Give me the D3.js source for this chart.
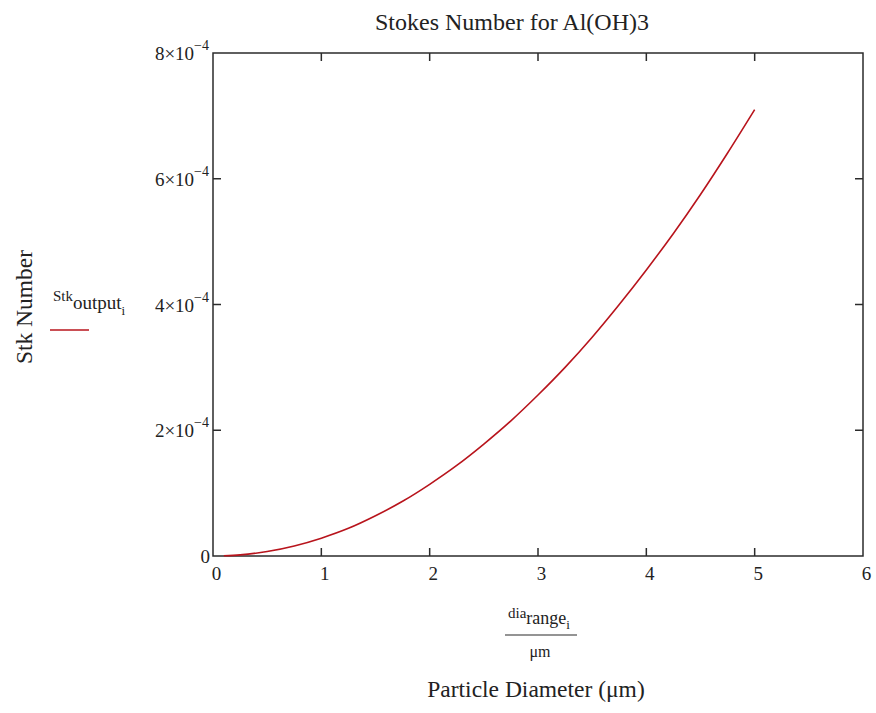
<!DOCTYPE html>
<html>
<head>
<meta charset="utf-8">
<script src="https://cdn.jsdelivr.net/npm/d3@7"></script>
<style>
  body { margin: 0; background: #fff; }
  text { font-family: "Liberation Serif", "DejaVu Serif", serif; fill: #222; }
</style>
</head>
<body>
<div id="chart"></div>
<script>
// data (Stk values in units of 1e-4)
const diameters = [0.1, 0.25, 0.5, 0.75, 1, 1.25, 1.5, 1.75, 2, 2.25, 2.5, 2.75, 3, 3.25, 3.5, 3.75, 4, 4.25, 4.5, 4.75, 5];
const stkValues = [0.003, 0.018, 0.071, 0.16, 0.284, 0.44, 0.64, 0.87, 1.14, 1.44, 1.78, 2.15, 2.56, 3.0, 3.48, 4.0, 4.55, 5.13, 5.75, 6.41, 7.10];
const xTicks = [0, 1, 2, 3, 4, 5, 6];
const yTicks = [0, 2, 4, 6, 8];

const width = 876;
const height = 713;
const margin = { left: 213, right: 13, top: 53, bottom: 157 };

const svg = d3.select("#chart").append("svg")
    .attr("width", width)
    .attr("height", height);

const x = d3.scaleLinear().domain([0, 6]).range([margin.left, width - margin.right]);
const y = d3.scaleLinear().domain([0, 8]).range([height - margin.bottom, margin.top]);

const points = diameters.map((d, i) => ({ d: d, s: stkValues[i] }));
const axisColor = "#2b2b2b";
const traceColor = "#b8141c";

// frame
svg.append("rect")
    .attr("x", x(0)).attr("y", y(8))
    .attr("width", x(6) - x(0)).attr("height", y(0) - y(8))
    .attr("fill", "none").attr("stroke", axisColor).attr("stroke-width", 1.5);

// inward ticks on all four sides
const tickLen = 8;
const inner = xTicks.slice(1, -1);
svg.append("g").selectAll("line").data(inner).join("line")
    .attr("x1", d => x(d)).attr("x2", d => x(d))
    .attr("y1", y(0)).attr("y2", y(0) - tickLen)
    .attr("stroke", axisColor).attr("stroke-width", 1.5);
svg.append("g").selectAll("line").data(inner).join("line")
    .attr("x1", d => x(d)).attr("x2", d => x(d))
    .attr("y1", y(8)).attr("y2", y(8) + tickLen)
    .attr("stroke", axisColor).attr("stroke-width", 1.5);
const innerY = yTicks.slice(1, -1);
svg.append("g").selectAll("line").data(innerY).join("line")
    .attr("x1", x(0)).attr("x2", x(0) + tickLen)
    .attr("y1", d => y(d)).attr("y2", d => y(d))
    .attr("stroke", axisColor).attr("stroke-width", 1.5);
svg.append("g").selectAll("line").data(innerY).join("line")
    .attr("x1", x(6)).attr("x2", x(6) - tickLen)
    .attr("y1", d => y(d)).attr("y2", d => y(d))
    .attr("stroke", axisColor).attr("stroke-width", 1.5);

// x tick labels
svg.append("g").selectAll("text").data(xTicks).join("text")
    .attr("x", d => x(d) + 3.5).attr("y", y(0) + 24)
    .attr("text-anchor", "middle")
    .style("font-size", "19px")
    .text(d => d);

// y tick labels
const yLab = svg.append("g").selectAll("text").data(yTicks).join("text")
    .attr("x", d => d === 0 ? x(0) - 3 : x(0) - 4)
    .attr("y", d => y(d) + 7)
    .attr("text-anchor", "end")
    .style("font-size", "19px");
yLab.each(function(d) {
    const t = d3.select(this);
    if (d === 0) { t.text("0"); return; }
    t.append("tspan").text(d + "\u00d710");
    t.append("tspan").attr("dy", -10).style("font-size", "14px").text("\u22124");
});

// curve
svg.append("path")
    .datum(points)
    .attr("fill", "none")
    .attr("stroke", traceColor)
    .attr("stroke-width", 1.6)
    .attr("d", d3.line().x(d => x(d.d)).y(d => y(d.s)).curve(d3.curveMonotoneX));

// title
svg.append("text")
    .attr("x", 375).attr("y", 30)
    .style("font-size", "24px")
    .text("Stokes Number for Al(OH)3");

// y axis title
svg.append("text")
    .attr("transform", `translate(32, 307) rotate(-90)`)
    .attr("text-anchor", "middle")
    .style("font-size", "23.5px")
    .text("Stk Number");

// legend
const leg = svg.append("text").attr("x", 53).attr("y", 301).style("font-size", "15px");
leg.append("tspan").text("Stk");
leg.append("tspan").attr("dy", 8).style("font-size", "19px").text("output");
leg.append("tspan").attr("dy", 6).style("font-size", "13px").text("i");
svg.append("line")
    .attr("x1", 50).attr("x2", 89).attr("y1", 330).attr("y2", 330)
    .attr("stroke", traceColor).attr("stroke-width", 1.5);

// x axis label (fraction + caption)
const frac = svg.append("text").attr("x", 508).attr("y", 618).style("font-size", "15px");
frac.append("tspan").text("dia");
frac.append("tspan").attr("dy", 6).style("font-size", "18px").text("range");
frac.append("tspan").attr("dy", 5).style("font-size", "13px").text("i");
svg.append("line")
    .attr("x1", 505).attr("x2", 577).attr("y1", 635).attr("y2", 635)
    .attr("stroke", axisColor).attr("stroke-width", 1.2);
svg.append("text")
    .attr("x", 540).attr("y", 657)
    .attr("text-anchor", "middle")
    .style("font-size", "16px")
    .text("\u03bcm");
svg.append("text")
    .attr("x", 536).attr("y", 697)
    .attr("text-anchor", "middle")
    .style("font-size", "23.5px")
    .text("Particle Diameter (\u03bcm)");
</script>
</body>
</html>
